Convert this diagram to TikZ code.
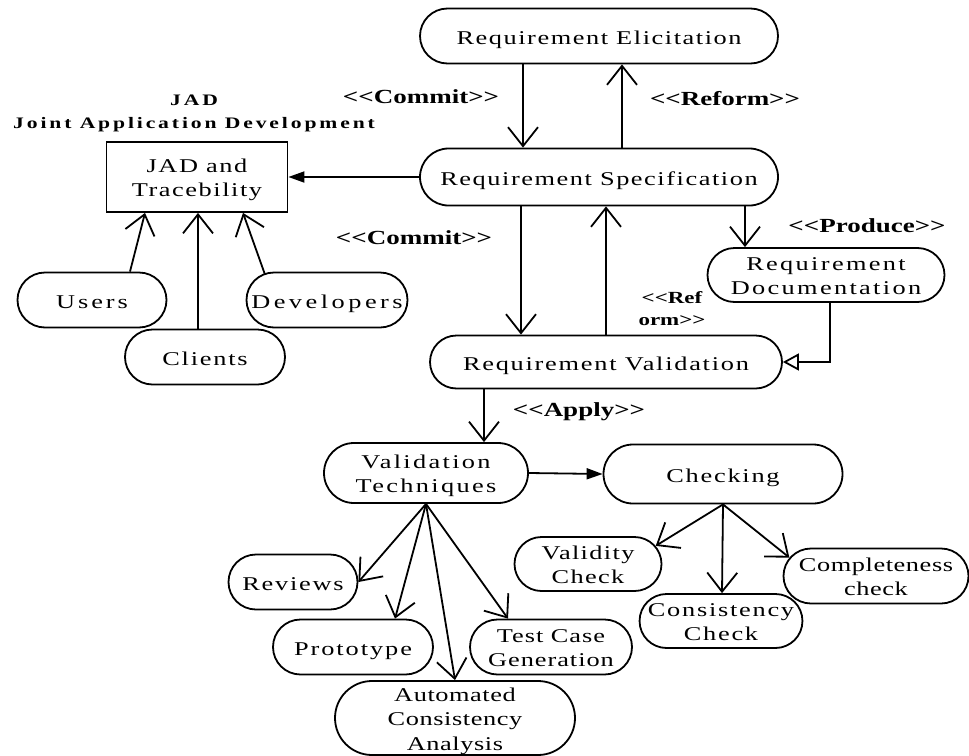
\documentclass[tikz,border=0pt]{standalone}
\usepackage{fontspec}
\setmainfont{Liberation Serif}[FakeStretch=1.35]
\newfontfamily\titlefont{Liberation Serif}[FakeStretch=1.35, LetterSpace=18]
\usetikzlibrary{arrows.meta,shapes.misc}
\begin{document}
\begin{tikzpicture}[x=1pt,y=-1pt,line width=1.8pt,
  sp/.style={font=\fontsize{19.5}{24.5}\selectfont\addfontfeature{LetterSpace=#1}},
  pill/.style={draw, rounded rectangle, inner sep=0pt, align=center, sp=8},
  box/.style={draw, rectangle, inner sep=0pt, align=center, sp=8},
  one/.style={text height=16pt, text depth=0pt},
  two/.style={text height=39pt, text depth=0pt},
  three/.style={text height=64pt, text depth=0pt},
  lbl/.style={font=\bfseries\fontsize{20}{22}\selectfont, inner sep=0pt},
  barb/.style={-{Straight Barb[length=19pt,width=30pt]}},
  solidtip/.style={-{Triangle[length=16pt,width=11pt]}},
  hollowtip/.style={-{Triangle[open,length=16pt,width=17pt]}}]
\useasboundingbox (0,0) rectangle (969,755);

% main requirement flow
\node[pill, one, minimum width=358pt, minimum height=55pt] (elic) at (599,36) {Requirement Elicitation};
\node[pill, one, minimum width=358pt, minimum height=57pt] (spec) at (599,177) {Requirement Specification};
\node[pill, two, sp=12, minimum width=237pt, minimum height=54pt] (doc) at (826,275) {Requirement\\Documentation};
\node[pill, one, sp=9, minimum width=352pt, minimum height=53pt] (val) at (606,362) {Requirement Validation};

% JAD group
\node[box, two, minimum width=181pt, minimum height=70pt] (jad) at (197,177) {JAD and\\Tracebility};
\node[font=\titlefont\bfseries\fontsize{16}{23}\selectfont, align=center, inner sep=0pt] (jadtitle) at (194,113) {JAD\\Joint Application Development};
\node[pill, one, sp=15, minimum width=149pt, minimum height=55pt] (users) at (92,300) {Users};
\node[pill, one, sp=9, minimum width=160pt, minimum height=55pt] (clients) at (205,357) {Clients};
\node[pill, one, sp=18, minimum width=161pt, minimum height=55pt] (devs) at (327,300) {Developers};

% validation techniques
\node[pill, two, sp=12, minimum width=204pt, minimum height=60pt] (vt) at (426,473) {Validation\\Techniques};
\node[pill, one, sp=9, minimum width=129pt, minimum height=55pt] (rev) at (293,582) {Reviews};
\node[pill, one, sp=10, minimum width=160pt, minimum height=55pt] (proto) at (353,647) {Prototype};
\node[pill, two, sp=5, minimum width=162pt, minimum height=55pt] (tcg) at (551,647) {Test Case\\Generation};
\node[pill, three, sp=3, minimum width=240pt, minimum height=74pt] (aca) at (455,718) {Automated\\Consistency\\Analysis};

% checking
\node[pill, one, sp=9, minimum width=239pt, minimum height=59pt] (chk) at (723,474) {Checking};
\node[pill, two, sp=7, minimum width=147pt, minimum height=54pt] (vc) at (588,564) {Validity\\Check};
\node[pill, two, sp=9, minimum width=161pt, minimum height=54pt] (cc) at (721,621) {Consistency\\Check};
\node[pill, two, sp=3, minimum width=185pt, minimum height=55pt] (comp) at (876,576) {Completeness\\check};

% stereotype labels
\node[lbl] (l1) at (421,97) {<{}<Commit>{}>};
\node[lbl] (l2) at (725,99) {<{}<Reform>{}>};
\node[lbl] (l3) at (414,238) {<{}<Commit>{}>};
\node[lbl] (l4) at (867,226) {<{}<Produce>{}>};
\node[lbl, align=center, font=\bfseries\fontsize{17}{22}\selectfont] (l5) at (672,309) {<{}<Ref\\orm>{}>};
\node[lbl] (l6) at (579,412) {<{}<Apply>{}>};

% connectors
\draw[barb] ([xshift=-76pt]elic.south) -- ([xshift=-76pt]spec.north);
\draw[barb] ([xshift=23pt]spec.north) -- ([xshift=23pt]elic.south);
\draw[solidtip] (spec.west) -- (jad.east);
\draw[barb] ([xshift=38pt]users.north) -- ([xshift=-52pt]jad.south);
\draw[barb] ([xshift=-7pt]clients.north) -- ([xshift=1pt]jad.south);
\draw[barb] ([xshift=-62pt,yshift=-3pt]devs.north) -- ([xshift=46pt]jad.south);
\draw[barb] ([xshift=146pt]spec.south) -- ([xshift=-81pt]doc.north);
\draw[barb] ([xshift=-78pt]spec.south) -- ([xshift=-85pt]val.north);
\draw[barb] (val.north) -- ([xshift=7pt]spec.south);
\draw[hollowtip] ([xshift=4pt]doc.south) |- (val.east);
\draw[barb] ([xshift=-122pt]val.south) -- ([xshift=58pt]vt.north);
\draw[solidtip] (vt.east) -- (chk.west);
\draw[barb] (vt.south) -- (rev.east);
\draw[barb] (vt.south) -- ([xshift=42pt]proto.north);
\draw[barb] (vt.south) -- (aca.north);
\draw[barb] (vt.south) -- ([xshift=-43pt]tcg.north);
\draw[barb] (chk.south) -- (vc.15);
\draw[barb] (chk.south) -- ([xshift=1pt]cc.north);
\draw[barb] (chk.south) -- (comp.168);
\end{tikzpicture}
\end{document}
